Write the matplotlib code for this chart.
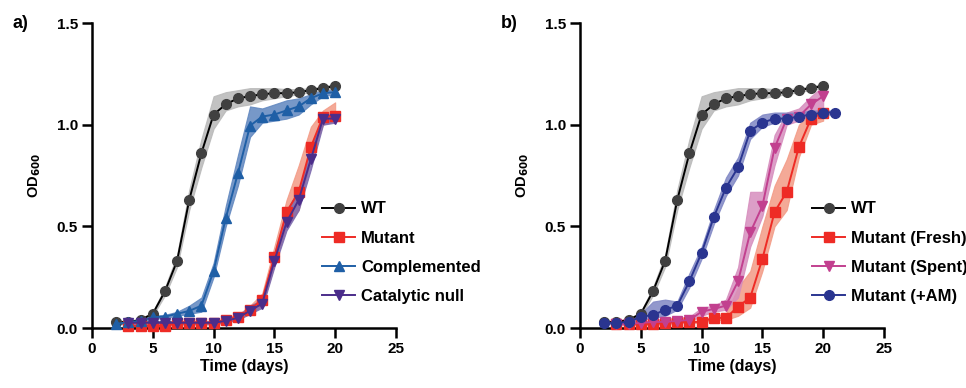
import numpy as np
import matplotlib.pyplot as plt

plt.rcParams['font.family'] = ['Liberation Sans', 'DejaVu Sans']
plt.rcParams['font.weight'] = 'bold'

# WT (same in both panels)
wt_days = list(range(2, 21))
wt_mean = [0.03, 0.03, 0.04, 0.07, 0.18, 0.33, 0.63, 0.86, 1.05, 1.10, 1.13, 1.14, 1.15, 1.155, 1.155, 1.16, 1.17, 1.18, 1.19]
wt_lo = [0.02, 0.025, 0.035, 0.06, 0.16, 0.30, 0.58, 0.79, 0.98, 1.07, 1.09, 1.10, 1.12, 1.13, 1.14, 1.15, 1.16, 1.17, 1.18]
wt_hi = [0.035, 0.035, 0.045, 0.08, 0.20, 0.36, 0.68, 0.93, 1.14, 1.16, 1.17, 1.18, 1.18, 1.18, 1.175, 1.175, 1.18, 1.19, 1.20]

# panel a
mut_days = list(range(3, 21))
mut_mean = [0.01, 0.01, 0.01, 0.01, 0.025, 0.025, 0.025, 0.025, 0.04, 0.055, 0.09, 0.14, 0.35, 0.57, 0.67, 0.89, 1.04, 1.045]
mut_lo = [0.005, 0.005, 0.005, 0.005, 0.02, 0.02, 0.02, 0.02, 0.03, 0.045, 0.07, 0.11, 0.31, 0.50, 0.58, 0.84, 1.00, 1.02]
mut_hi = [0.015, 0.015, 0.015, 0.015, 0.03, 0.03, 0.03, 0.03, 0.05, 0.065, 0.11, 0.17, 0.40, 0.63, 0.80, 0.99, 1.07, 1.11]

comp_days = list(range(2, 21))
comp_mean = [0.02, 0.03, 0.035, 0.053, 0.056, 0.07, 0.084, 0.11, 0.28, 0.54, 0.76, 0.995, 1.04, 1.05, 1.07, 1.09, 1.13, 1.155, 1.16]
comp_lo = [0.015, 0.025, 0.03, 0.045, 0.05, 0.06, 0.07, 0.08, 0.25, 0.50, 0.70, 0.94, 1.01, 1.02, 1.03, 1.05, 1.10, 1.14, 1.15]
comp_hi = [0.025, 0.035, 0.04, 0.06, 0.065, 0.08, 0.11, 0.15, 0.32, 0.60, 0.85, 1.09, 1.08, 1.10, 1.12, 1.13, 1.15, 1.17, 1.17]

cat_days = list(range(3, 21))
cat_mean = [0.026, 0.026, 0.026, 0.026, 0.026, 0.026, 0.026, 0.026, 0.035, 0.05, 0.085, 0.12, 0.33, 0.52, 0.63, 0.83, 1.03, 1.03]
cat_lo = [0.018, 0.018, 0.018, 0.018, 0.018, 0.018, 0.018, 0.018, 0.027, 0.04, 0.07, 0.10, 0.30, 0.48, 0.58, 0.78, 1.00, 1.01]
cat_hi = [0.034, 0.034, 0.034, 0.034, 0.034, 0.034, 0.034, 0.034, 0.043, 0.06, 0.11, 0.14, 0.37, 0.58, 0.68, 0.88, 1.05, 1.05]

# panel b
fresh_days = list(range(3, 21))
fresh_mean = [0.02, 0.02, 0.02, 0.02, 0.025, 0.03, 0.03, 0.03, 0.05, 0.05, 0.105, 0.15, 0.34, 0.57, 0.67, 0.89, 1.03, 1.06]
fresh_lo = [0.015, 0.015, 0.015, 0.015, 0.02, 0.025, 0.025, 0.025, 0.04, 0.04, 0.06, 0.10, 0.28, 0.50, 0.58, 0.84, 1.00, 1.02]
fresh_hi = [0.025, 0.025, 0.025, 0.025, 0.03, 0.035, 0.035, 0.035, 0.06, 0.07, 0.20, 0.28, 0.50, 0.70, 0.83, 1.00, 1.06, 1.08]

spent_days = list(range(3, 21))
spent_mean = [0.02, 0.02, 0.025, 0.03, 0.03, 0.035, 0.04, 0.08, 0.094, 0.11, 0.23, 0.47, 0.60, 0.885, 1.03, 1.04, 1.10, 1.14]
spent_lo = [0.015, 0.015, 0.02, 0.02, 0.02, 0.025, 0.03, 0.06, 0.08, 0.09, 0.15, 0.40, 0.55, 0.80, 1.00, 1.02, 1.06, 1.08]
spent_hi = [0.025, 0.025, 0.03, 0.04, 0.045, 0.05, 0.055, 0.10, 0.11, 0.14, 0.30, 0.67, 0.67, 0.95, 1.06, 1.08, 1.14, 1.19]

am_days = list(range(2, 22))
am_mean = [0.026, 0.025, 0.03, 0.055, 0.064, 0.089, 0.11, 0.23, 0.37, 0.545, 0.69, 0.79, 0.97, 1.01, 1.03, 1.03, 1.04, 1.05, 1.06, 1.06]
am_lo = [0.02, 0.02, 0.025, 0.04, 0.05, 0.06, 0.09, 0.20, 0.34, 0.51, 0.65, 0.75, 0.93, 0.99, 1.01, 1.02, 1.03, 1.04, 1.05, 1.05]
am_hi = [0.03, 0.03, 0.035, 0.07, 0.13, 0.14, 0.13, 0.27, 0.40, 0.58, 0.74, 0.84, 1.01, 1.05, 1.06, 1.06, 1.06, 1.07, 1.07, 1.07]


def curva(ax, dias, media, lo, hi, etiqueta, color_linea, color_marca, color_banda, marca, tam):
    # banda de error sin borde oscuro, como en GraphPad
    ax.fill_between(dias, lo, hi, facecolor=color_banda, edgecolor=color_banda, lw=0.8, alpha=0.85, zorder=1)
    ax.plot(dias, media, color=color_linea, lw=1.4, marker=marca, ms=tam,
            mfc=color_marca, mec=color_marca, label=etiqueta, zorder=3, clip_on=False)


def ejes(ax, letra):
    ax.set_xlim(0, 25)
    ax.set_ylim(0, 1.5)
    ax.set_xticks([0, 5, 10, 15, 20, 25])
    ax.set_yticks([0.0, 0.5, 1.0, 1.5])
    ax.set_yticklabels(['0.0', '0.5', '1.0', '1.5'])
    for s in ['top', 'right']:
        ax.spines[s].set_visible(False)
    for s in ['left', 'bottom']:
        ax.spines[s].set_linewidth(1.8)
    ax.tick_params(width=1.8, length=7, labelsize=11, pad=3)
    for t in ax.get_xticklabels() + ax.get_yticklabels():
        t.set_fontweight('bold')
    ax.set_xlabel('Time (days)', fontsize=11.5, fontweight='bold', labelpad=2)
    ax.set_ylabel('OD$_{\\mathbf{600}}$', fontsize=10.5, fontweight='bold', labelpad=10)
    ax.text(-0.26, 1.0, letra, transform=ax.transAxes, fontsize=13, fontweight='bold', va='center')


fig = plt.figure(figsize=(9.66, 3.88), dpi=100)
ax1 = fig.add_axes([0.0952, 0.1546, 0.3147, 0.786])
ax2 = fig.add_axes([0.6004, 0.1546, 0.3147, 0.786])

curva(ax1, wt_days, wt_mean, wt_lo, wt_hi, 'WT', 'black', '#404040', '#b8b8b8', 'o', 7)
curva(ax1, mut_days, mut_mean, mut_lo, mut_hi, 'Mutant', '#ee2b25', '#ee2b25', '#f39a85', 's', 7)
curva(ax1, comp_days, comp_mean, comp_lo, comp_hi, 'Complemented', '#1f5fa6', '#1f5fa6', '#5f86bf', '^', 7)
curva(ax1, cat_days, cat_mean, cat_lo, cat_hi, 'Catalytic null', '#4b2d8a', '#4b2d8a', '#7b68ad', 'v', 7)

curva(ax2, wt_days, wt_mean, wt_lo, wt_hi, 'WT', 'black', '#404040', '#b8b8b8', 'o', 7)
curva(ax2, fresh_days, fresh_mean, fresh_lo, fresh_hi, 'Mutant (Fresh)', '#ee2b25', '#ee2b25', '#f39a85', 's', 7)
curva(ax2, spent_days, spent_mean, spent_lo, spent_hi, 'Mutant (Spent)', '#c2408f', '#c2408f', '#d68dbd', 'v', 7)
curva(ax2, am_days, am_mean, am_lo, am_hi, 'Mutant (+AM)', '#2a3590', '#2a3590', '#7f86c4', 'o', 7)

ejes(ax1, 'a)')
ejes(ax2, 'b)')

for ax, x0 in [(ax1, 0.757), (ax2, 0.763)]:
    ax.legend(loc='upper left', bbox_to_anchor=(x0, 0.415), frameon=False,
              handlelength=2.0, handletextpad=0.35, labelspacing=0.85, borderpad=0,
              borderaxespad=0, numpoints=1, prop={'weight': 'bold', 'size': 12})

fig.savefig('out.png', dpi=100)
